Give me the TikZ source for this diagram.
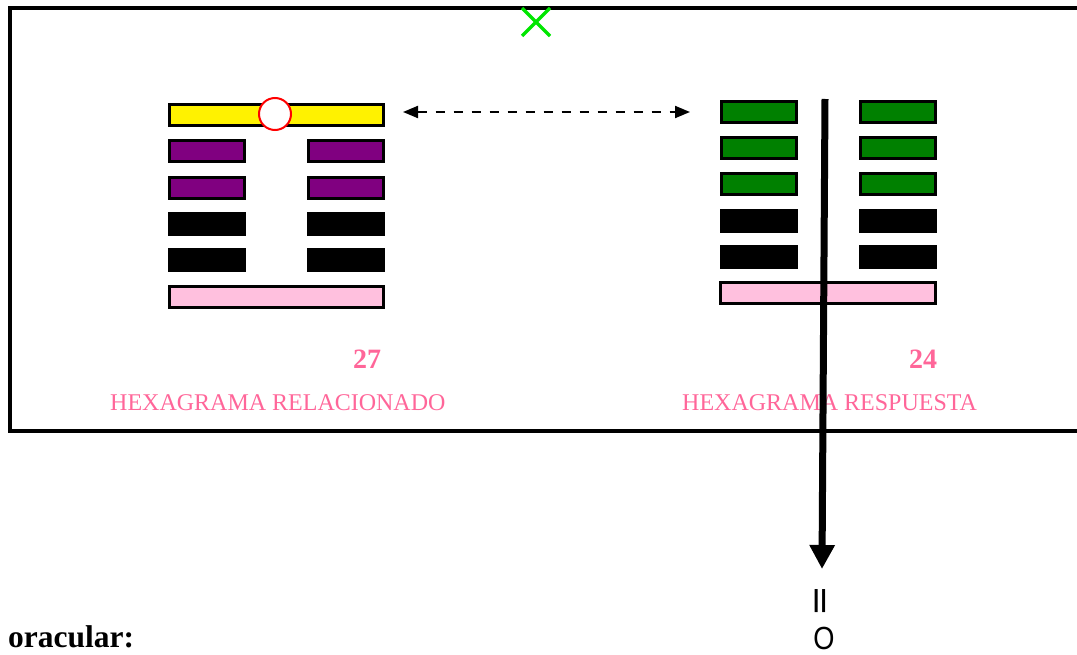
\documentclass[tikz,border=0pt]{standalone}
\usepackage{fontspec}
\setmainfont{Liberation Serif}
\newfontfamily\sansf{Liberation Sans}
\usetikzlibrary{arrows.meta}
\definecolor{pinktxt}{RGB}{255,102,153}
\definecolor{pinkfill}{RGB}{255,192,222}
\definecolor{purp}{RGB}{128,0,128}
\definecolor{grn}{RGB}{0,128,0}
\definecolor{xgreen}{RGB}{0,230,0}
\tikzset{
  halfbar/.style={draw=black, line width=3pt, inner sep=0pt, minimum width=75pt, minimum height=21pt},
  fullbar/.style={draw=black, line width=3pt, inner sep=0pt, minimum width=214pt, minimum height=21pt},
  lbl/.style={text=pinktxt, inner sep=0pt, font=\fontsize{24}{28}\selectfont},
  num/.style={text=pinktxt, inner sep=0pt, font=\bfseries\fontsize{28}{32}\selectfont},
}
\begin{document}
\begin{tikzpicture}[x=1pt,y=-1pt]
\useasboundingbox (0,0) rectangle (1077,655);
% frame (open on the right)
\draw[line width=4pt] (1080,8) -- (9.5,8) -- (9.5,431) -- (1080,431);

% left hexagram (27)
\node[fullbar, fill=yellow] (L1) at (276.5,115) {};
\node[halfbar, fill=purp] (L2a) at (207,151.5) {};
\node[halfbar, fill=purp] (L2b) at (346,151.5) {};
\node[halfbar, fill=purp] (L3a) at (207,188) {};
\node[halfbar, fill=purp] (L3b) at (346,188) {};
\node[halfbar, fill=black] (L4a) at (207,224) {};
\node[halfbar, fill=black] (L4b) at (346,224) {};
\node[halfbar, fill=black] (L5a) at (207,260.5) {};
\node[halfbar, fill=black] (L5b) at (346,260.5) {};
\node[fullbar, fill=pinkfill] (L6) at (276.5,297) {};
\node[circle, draw=red, line width=2pt, fill=white, minimum size=32pt, inner sep=0pt] (ring) at (275,114) {};

% right hexagram (24)
\node[halfbar, fill=grn] (R1a) at (758.5,112) {};
\node[halfbar, fill=grn] (R1b) at (897.5,112) {};
\node[halfbar, fill=grn] (R2a) at (758.5,148) {};
\node[halfbar, fill=grn] (R2b) at (897.5,148) {};
\node[halfbar, fill=grn] (R3a) at (758.5,184) {};
\node[halfbar, fill=grn] (R3b) at (897.5,184) {};
\node[halfbar, fill=black] (R4a) at (758.5,221) {};
\node[halfbar, fill=black] (R4b) at (897.5,221) {};
\node[halfbar, fill=black] (R5a) at (758.5,257) {};
\node[halfbar, fill=black] (R5b) at (897.5,257) {};
\node[fullbar, fill=pinkfill, minimum width=215pt] (R6) at (828,293) {};

% labels
\node[num, anchor=base] (n27) at (367,368) {27};
\node[lbl, anchor=base west] (t27) at (110,410) {HEXAGRAMA RELACIONADO};
\node[num, anchor=base] (n24) at (923,368) {24};
\node[lbl, anchor=base west] (t24) at (682,410) {HEXAGRAMA RESPUESTA};

% dashed double arrow
\coordinate (da) at (403,112);
\coordinate (db) at (690,112);
\draw[line width=2pt, dash pattern=on 9pt off 9pt,
  {Triangle[width=12pt,length=15pt]}-{Triangle[width=12pt,length=15pt]}] (da) -- (db);

% thick vertical arrow
\coordinate (va) at (825,99);
\coordinate (vb) at (822,569);
\draw[line width=7pt, -{Triangle[width=24pt,length=24pt]}] (va) -- (vb);

% result symbols
\node[inner sep=0pt, font=\sansf\bfseries\fontsize{46}{46}\selectfont] (eq) at (822.5,601.5) {\rotatebox{90}{\scalebox{1}[0.6]{=}}};
\node[inner sep=0pt, font=\sansf\fontsize{32}{32}\selectfont] (zero) at (824,638) {\scalebox{0.85}[1]{O}};

% green cross
\coordinate (x1) at (522,8);
\coordinate (x2) at (550,36);
\coordinate (x3) at (550,8);
\coordinate (x4) at (522,36);
\draw[xgreen, line width=3.5pt] (x1) -- (x2) (x3) -- (x4);

% bottom text
\node[inner sep=0pt, anchor=base west, font=\bfseries\fontsize{31.5}{34}\selectfont] (orac) at (8,647) {oracular:};
\end{tikzpicture}
\end{document}
